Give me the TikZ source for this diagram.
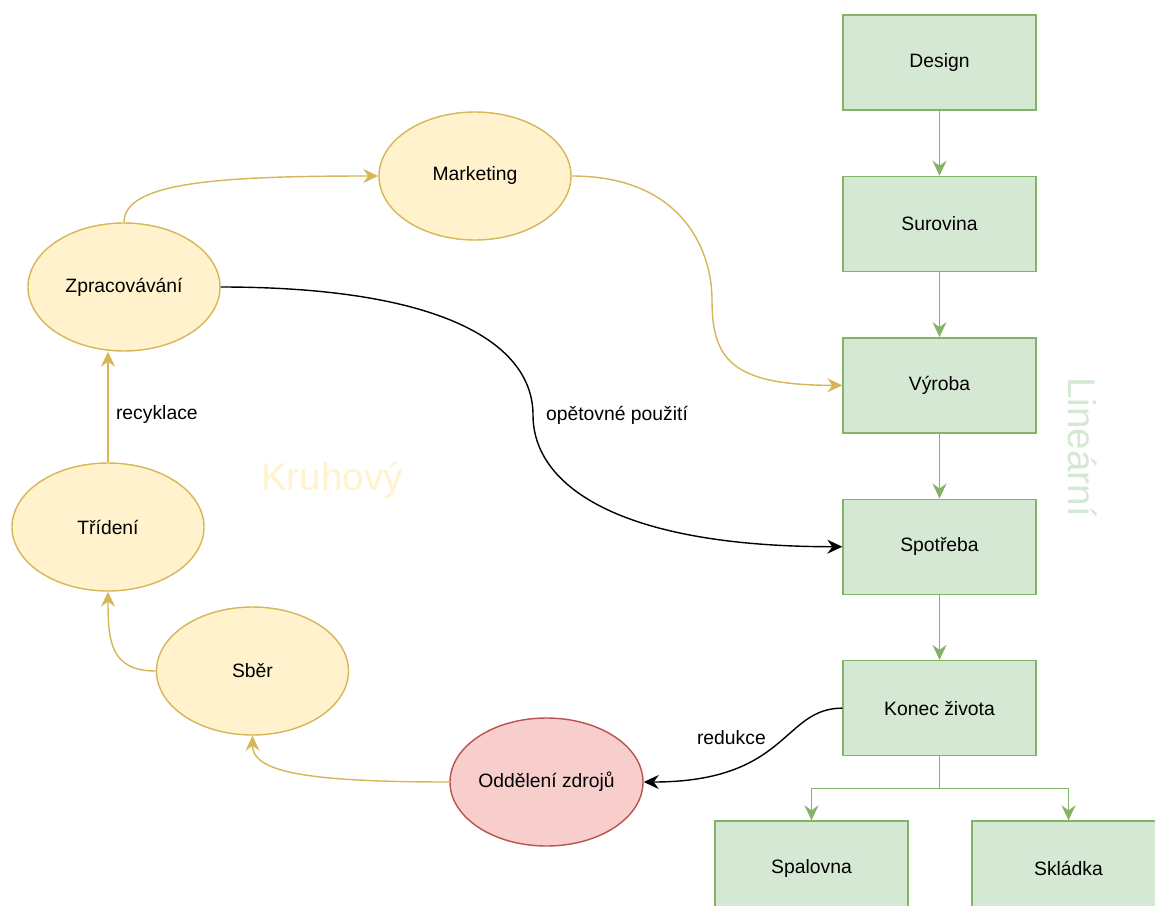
\documentclass[tikz,border=0pt]{standalone}
\usepackage{fontspec}
\setmainfont{Liberation Sans}
\usetikzlibrary{positioning, arrows.meta, shapes.geometric}

\definecolor{ylwfill}{HTML}{FFF2CC}
\definecolor{ylwline}{HTML}{D6B656}
\definecolor{grnfill}{HTML}{D5E8D4}
\definecolor{grnline}{HTML}{82B366}
\definecolor{redfill}{HTML}{F8CECC}
\definecolor{redline}{HTML}{B85450}

\begin{document}
\begin{tikzpicture}[
    font=\fontsize{11}{13}\selectfont,
    stage/.style={rectangle, draw=grnline, fill=grnfill, line width=0.8pt, minimum width=3.86cm, minimum height=1.9cm},
    phase/.style={ellipse, draw=ylwline, fill=ylwfill, line width=0.8pt, inner sep=0pt, minimum width=3.84cm, minimum height=2.56cm},
    arrow/.style={-{Stealth[length=3mm, width=2.8mm, inset=1mm]}, line width=0.8pt},
    grnarrow/.style={arrow, color=grnline},
    ylwarrow/.style={arrow, color=ylwline},
    bigtext/.style={font=\fontsize{22}{26}\selectfont}
]

    \useasboundingbox (0,0) rectangle (23.1,-18.1);
    \clip (0,0) rectangle (23.1,-18.1);

    % Background labels
    \node[bigtext, text=ylwfill] (kruhovy) at (6.64,-9.6) {Kruhový};
    \node[bigtext, text=grnfill, rotate=-90] (linearni) at (21.66,-8.94) {Lineární};

    % Linear chain
    \node[stage] (design) at (18.79,-1.25) {Design};
    \node[stage, below=1.3cm of design] (surovina) {Surovina};
    \node[stage, below=1.3cm of surovina] (vyroba) {Výroba};
    \node[stage, below=1.3cm of vyroba] (spotreba) {Spotřeba};
    \node[stage, below=1.3cm of spotreba] (konec) {Konec života};
    \node[stage, below=1.28cm of konec, xshift=-2.56cm] (spalovna) {Spalovna};
    \node[stage, below=1.28cm of konec, xshift=2.58cm] (skladka) {Skládka};
    \coordinate[below=0.64cm of konec] (split);

    % Circular loop
    \node[phase] (marketing) at (9.5,-3.52) {Marketing};
    \node[phase] (zpracovani) at (2.48,-5.74) {Zpracovávání};
    \node[phase] (trideni) at (2.16,-10.54) {Třídení};
    \node[phase] (sber) at (5.05,-13.42) {Sběr};
    \node[phase, draw=redline, fill=redfill, minimum width=3.86cm] (oddeleni) at (10.93,-15.64) {Oddělení zdrojů};

    % Bends of the long curves
    \coordinate (mktbend) at (14.24,-6.0);
    \coordinate (reusebend) at (10.66,-8.3);

    % Arrows
    \draw[grnarrow] (design) -- (surovina);
    \draw[grnarrow] (surovina) -- (vyroba);
    \draw[grnarrow] (vyroba) -- (spotreba);
    \draw[grnarrow] (spotreba) -- (konec);
    \draw[grnarrow] (konec.south) -- (split) -| (spalovna.north);
    \draw[grnarrow] (split) -| (skladka.north);

    \draw[ylwarrow] (zpracovani.north) .. controls +(0,0.8) and +(-3.2,0) .. (marketing.west);
    \draw[ylwarrow] (marketing.east) .. controls +(2.2,0) and +(0,1.0) .. (mktbend)
        .. controls +(0,-1.2) and +(-2.2,0) .. (vyroba.west);
    \draw[ylwarrow] (oddeleni.west) .. controls +(-3.0,0) and +(0,-0.7) .. (sber.south);
    \draw[ylwarrow] (sber.west) .. controls +(-0.9,0) and +(0,-1.0) .. (trideni.south);
    \draw[ylwarrow] (trideni.north) -- node[pos=0.43, right=0.03cm, text=black] {recyklace} (trideni.north |- zpracovani.south);

    \draw[arrow] (zpracovani.east) .. controls +(4.5,0) and +(0,1.4) .. (reusebend)
        node[right=0.13cm] {opětovné použití}
        .. controls +(0,-1.4) and +(-4.5,0) .. (spotreba.west);
    \draw[arrow] (konec.west) .. controls +(-1.2,0) and +(2.9,0) .. node[midway, left=0.05cm, yshift=0.14cm] {redukce} (oddeleni.east);

\end{tikzpicture}
\end{document}
